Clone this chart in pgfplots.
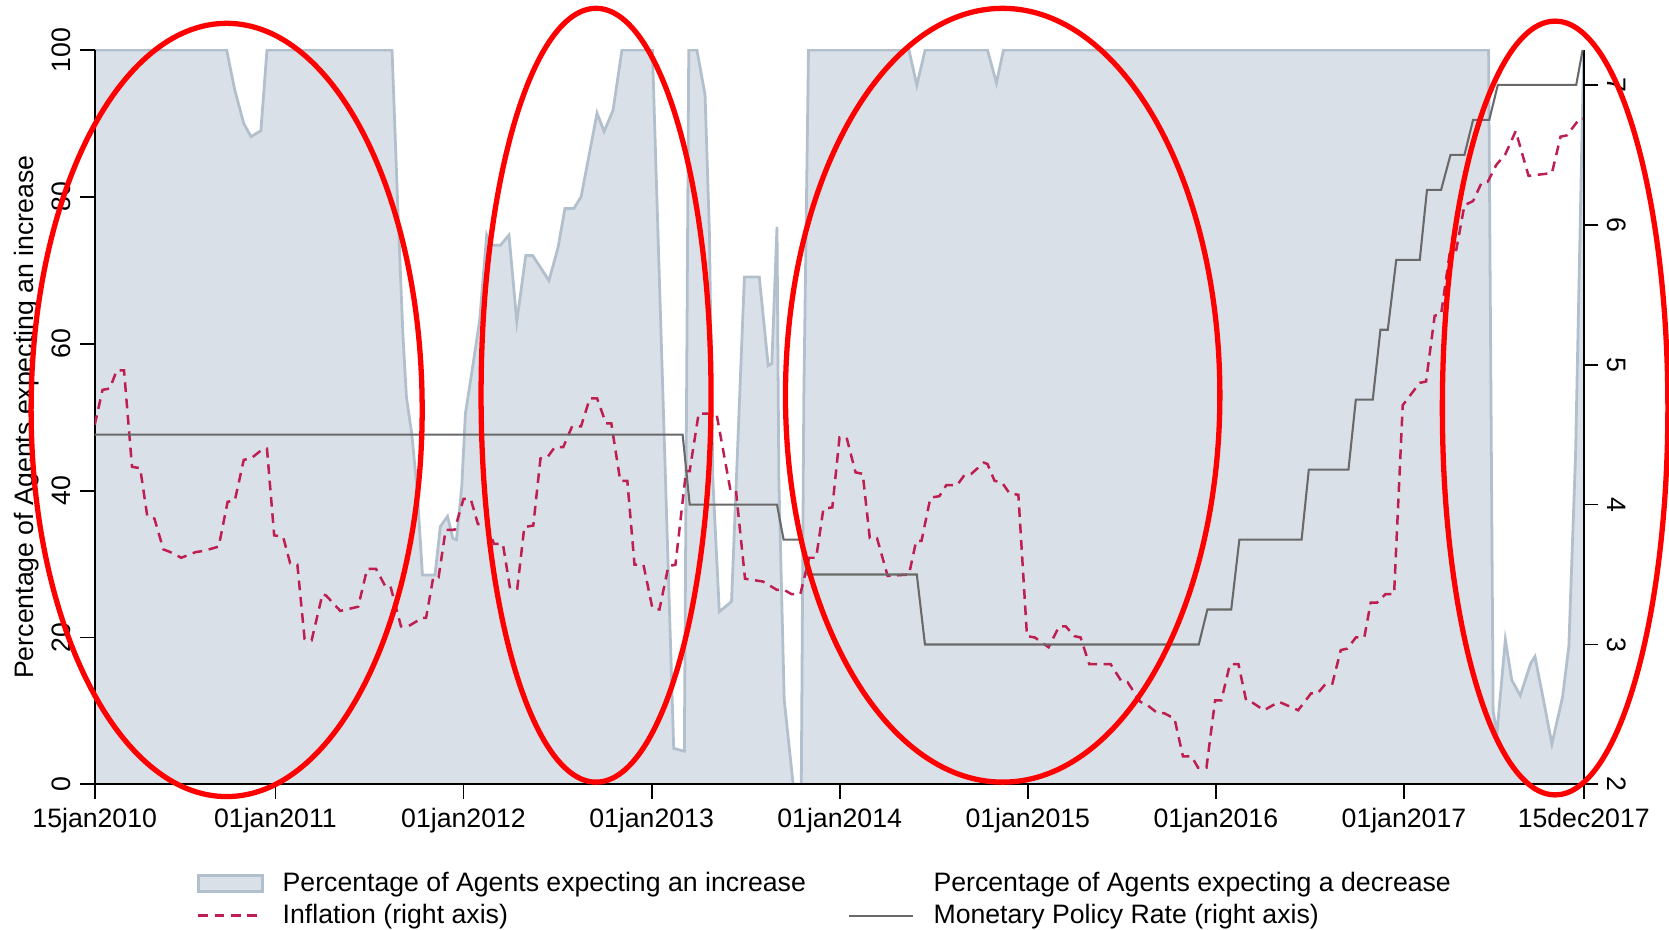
\documentclass[border=0pt]{standalone}
\usepackage{fontspec}
\setmainfont{Liberation Sans}
\usepackage{pgfplots}
\usepackage{pgfplotstable}
\pgfplotsset{compat=1.18}
\definecolor{areafill}{RGB}{218,224,231}
\definecolor{areaedge}{RGB}{178,192,205}
\definecolor{infl}{RGB}{190,30,80}
\definecolor{mpr}{RGB}{105,105,105}
\pgfplotsset{
  lineleg/.style={legend image code/.code={\draw[##1] (0pt,0pt) -- (23pt,0pt);}},
  arealeg/.style={legend image code/.code={\draw[fill=areafill, draw=areaedge, line width=1pt] (0pt,-2.8pt) rectangle (23pt,2.8pt);}},
  emptyleg/.style={legend image code/.code={\path[draw=none, fill=none] (0pt,-2.8pt) rectangle (23pt,2.8pt);}},
}

% x = months since 01jan2010 (15jan2010 = 0.47, 15dec2017 = 95.47)
\pgfplotstableread{
m v
0.47 100
8.89 100
9.41 94.5
9.98 90
10.44 88.2
11.07 89
11.46 100
19.44 100
19.79 79.5
20.13 61.4
20.36 52.7
20.70 47.7
21.04 40.1
21.38 28.5
22.18 28.5
22.52 35.1
22.98 36.5
23.32 33.5
23.55 33.3
23.89 40.6
24.12 50.5
24.58 56.8
25.03 63.2
25.48 74.8
25.75 73.4
26.35 73.4
26.90 74.8
27.40 63.0
27.97 72.0
28.42 72.0
29.45 68.6
30.02 73.0
30.47 78.4
31.04 78.4
31.50 80.0
31.95 85.0
32.52 91.4
32.97 88.9
33.54 91.8
34.11 100
36.05 100
37.41 4.9
38.09 4.5
38.37 100
38.89 100
39.41 93.9
39.69 75.0
39.91 41.4
40.32 23.5
40.60 24.0
41.10 24.9
41.92 69.1
42.87 69.1
43.44 57.0
43.67 57.3
44.00 75.9
44.12 41.4
44.46 11.5
45.03 0
45.55 0
45.71 52.4
46.01 100
52.42 100
52.92 95.2
53.45 100
57.43 100
58.00 95.5
58.45 100
89.40 100
89.69 10.0
89.93 6.9
90.47 19.7
90.88 14.2
91.42 12.1
92.09 16.5
92.36 17.4
92.91 11.4
93.44 5.5
94.12 11.9
94.52 18.8
94.95 45.0
95.47 100
}\areatab

\pgfplotstableread{
m v
0.47 4.57
0.97 4.82
1.43 4.83
1.88 4.96
2.34 4.96
2.85 4.27
3.37 4.26
3.82 3.92
4.28 3.90
4.85 3.68
5.30 3.66
5.99 3.62
6.90 3.66
7.47 3.67
8.38 3.70
8.95 4.02
9.41 4.03
9.98 4.32
10.44 4.33
11.23 4.40
11.46 4.40
11.92 3.78
12.49 3.77
12.94 3.58
13.40 3.57
13.86 3.04
14.31 3.03
15.00 3.36
15.23 3.35
16.14 3.24
17.28 3.27
17.85 3.54
18.42 3.54
18.99 3.42
19.33 3.42
20.01 3.13
20.47 3.13
21.38 3.19
21.61 3.19
22.07 3.48
22.41 3.48
22.86 3.82
23.43 3.82
24.00 4.04
24.46 4.04
24.92 3.86
25.49 3.86
25.94 3.72
26.51 3.72
26.97 3.40
27.43 3.40
27.88 3.84
28.45 3.85
28.91 4.33
29.36 4.34
29.82 4.41
30.36 4.41
30.93 4.56
31.50 4.56
32.06 4.76
32.52 4.76
33.09 4.58
33.43 4.58
34.00 4.17
34.45 4.17
34.91 3.57
35.48 3.57
36.05 3.26
36.50 3.25
37.07 3.56
37.52 3.57
38.20 4.24
38.43 4.24
39.00 4.65
40.14 4.65
41.05 4.09
41.39 4.09
41.96 3.47
43.10 3.45
44.00 3.39
44.46 3.39
44.92 3.36
45.49 3.36
46.05 3.62
46.50 3.62
46.96 3.97
47.53 3.98
47.99 4.48
48.44 4.48
49.01 4.23
49.47 4.22
49.92 3.76
50.38 3.76
51.06 3.49
52.42 3.50
52.88 3.74
53.22 3.74
53.79 4.05
54.36 4.06
54.81 4.14
55.50 4.14
55.95 4.21
56.40 4.22
57.20 4.30
57.43 4.29
57.88 4.17
58.34 4.16
58.84 4.08
59.40 4.07
59.95 3.06
60.45 3.05
61.33 2.98
62.00 3.13
62.42 3.13
62.97 3.06
63.37 3.05
63.92 2.86
65.28 2.86
65.96 2.74
66.37 2.73
67.18 2.59
67.59 2.57
68.27 2.51
68.68 2.51
69.36 2.47
69.90 2.20
70.45 2.20
70.86 2.12
71.40 2.12
71.95 2.60
72.35 2.60
72.90 2.86
73.44 2.86
73.93 2.60
74.26 2.59
75.07 2.53
76.03 2.59
76.44 2.57
77.25 2.53
78.07 2.65
78.48 2.65
79.02 2.72
79.43 2.72
79.97 2.96
80.38 2.97
80.93 3.05
81.47 3.05
81.88 3.30
82.29 3.30
82.83 3.36
83.37 3.36
83.92 4.71
85.00 4.87
85.41 4.88
85.96 5.35
86.37 5.36
86.91 5.79
87.32 5.81
87.86 6.14
88.41 6.17
88.95 6.30
89.36 6.31
89.90 6.43
90.45 6.50
91.13 6.67
91.95 6.35
93.44 6.37
93.99 6.63
94.40 6.64
95.21 6.76
95.43 6.76
}\infltab

\pgfplotstableread{
m v
0.47 4.5
37.98 4.5
38.43 4.0
44.00 4.0
44.42 3.75
45.49 3.75
45.94 3.5
52.92 3.5
53.44 3.0
70.91 3.0
71.46 3.25
72.98 3.25
73.50 3.75
77.47 3.75
77.93 4.25
80.46 4.25
80.93 4.75
82.01 4.75
82.50 5.25
82.97 5.25
83.51 5.75
85.01 5.75
85.47 6.25
86.37 6.25
86.97 6.5
87.86 6.5
88.41 6.75
89.44 6.75
89.99 7.0
94.99 7.0
95.40 7.25
}\mprtab

\begin{document}
\fontsize{9.6}{11.5}\selectfont
\begin{tikzpicture}
\useasboundingbox (-34.1pt,-52.1pt) rectangle (566.8pt,282.4pt);
\begin{axis}[
  scale only axis, width=536.1pt, height=264.4pt,
  xmin=0.47, xmax=95.47, ymin=0, ymax=100,
  axis x line*=bottom, axis y line*=left,
  axis line style={line width=0.65pt, -},
  axis on top,
  tick align=outside, major tick length=5.2pt,
  tick style={line width=0.65pt, black},
  xtick={0.47,12,24,36,48,60,72,84,95.47},
  xticklabels={15jan2010,01jan2011,01jan2012,01jan2013,01jan2014,01jan2015,01jan2016,01jan2017,15dec2017},
  ytick={0,20,40,60,80,100},
  yticklabel style={rotate=90, anchor=south},
  /pgf/number format/assume math mode=true,
  ylabel={Percentage of Agents expecting an increase},
  ylabel style={at={(axis description cs:-0.0457,0.5)}, anchor=center},
]
\addplot[fill=areafill, draw=none] table[x=m,y=v]{\areatab} \closedcycle;
\addplot[areaedge, line width=1pt] table[x=m,y=v]{\areatab};
\end{axis}
\begin{axis}[
  scale only axis, width=536.1pt, height=264.4pt,
  xmin=0.47, xmax=95.47, ymin=2, ymax=7.25,
  axis x line=none, axis y line*=right,
  axis line style={line width=0.65pt, -},
  tick align=outside, major tick length=5.2pt,
  tick style={line width=0.65pt, black},
  ytick={2,3,4,5,6,7},
  yticklabel style={rotate=-90, anchor=south},
  /pgf/number format/assume math mode=true,
  legend columns=2,
  legend cell align=left,
  legend style={draw=none, fill=none, inner sep=0pt, outer sep=0pt,
    at={(axis description cs:0.0686,-0.119)}, anchor=north west,
    nodes={inner sep=0pt, font=\fontsize{9.6}{11.5}\selectfont},
    row sep=3.2pt,
    /tikz/every odd column/.append style={column sep=6.9pt},
    /tikz/every even column/.append style={column sep=15.3pt}},
]
\addlegendimage{arealeg}
\addlegendentry{Percentage of Agents expecting an increase}
\addlegendimage{emptyleg}
\addlegendentry{Percentage of Agents expecting a decrease}
\addplot[infl, line width=0.9pt, dash pattern=on 3.5pt off 2.4pt, lineleg] table[x=m,y=v]{\infltab};
\addlegendentry{Inflation (right axis)}
\addplot[mpr, line width=0.75pt, lineleg] table[x=m,y=v]{\mprtab};
\addlegendentry{Monetary Policy Rate (right axis)}
\end{axis}
\draw[red, line width=1.9pt] (47.5pt,134.8pt) ellipse [x radius=70.4pt, y radius=139.2pt];
\draw[red, line width=1.9pt] (180.5pt,140.1pt) ellipse [x radius=41.4pt, y radius=139.3pt];
\draw[red, line width=1.9pt] (326.9pt,140.1pt) ellipse [x radius=78.2pt, y radius=139.3pt];
\draw[red, line width=1.9pt] (525.8pt,135.5pt) ellipse [x radius=40.6pt, y radius=139.3pt];
\end{tikzpicture}
\end{document}
